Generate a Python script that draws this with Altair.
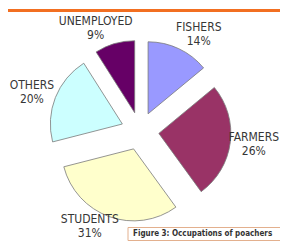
import altair as alt
import pandas as pd

# ---- data ----
categories = ["FISHERS", "FARMERS", "STUDENTS", "OTHERS", "UNEMPLOYED"]
shares = [14, 26, 31, 20, 9]
colors = ["#9999ff", "#993366", "#ffffcc", "#ccffff", "#660066"]
caption = ["Figure 3: Occupations of poachers"]

# ---- layout (chart must fit 288x249 window minus 8px page margins) ----
W, H = 272, 233
CX, CY = 132, 123      # pie centre
R = 72                 # pie radius
EXPLODE = 19           # explode distance of every slice
LRX, LRY = 98, 107     # label anchor radii
LGAP = 17              # horizontal push of labels away from the pie
HALF_CHAR = 3.6        # half width of one capital at 12px
BLOCK_H = 27           # full height of a two-line label
LINE_H = 14
FONT = "DejaVu Sans Condensed, DejaVu Sans, sans-serif"

df = pd.DataFrame({"cat": categories, "share": shares, "order": list(range(len(categories)))})

base = (
    alt.Chart(df)
    .transform_window(cum="sum(share)", sort=[alt.SortField("order")], frame=[None, 0])
    .transform_joinaggregate(total="sum(share)")
    .transform_calculate(
        a0="2*PI*(datum.cum - datum.share)/datum.total",
        a1="2*PI*datum.cum/datum.total",
    )
    .transform_calculate(mid="(datum.a0 + datum.a1)/2")
)

arcs = (
    base.transform_calculate(
        px=f"{CX} + {EXPLODE}*sin(datum.mid)",
        py=f"{CY} - {EXPLODE}*cos(datum.mid)",
    )
    .mark_arc(radius=R, stroke="#7a7a7a", strokeWidth=0.8)
    .encode(
        x=alt.X("px:Q", scale=None, axis=None),
        y=alt.Y("py:Q", scale=None, axis=None),
        theta=alt.Theta("a0:Q", scale=None, stack=False),
        theta2="a1:Q",
        color=alt.Color("cat:N", scale=alt.Scale(domain=categories, range=colors), legend=None),
    )
)

labels = (
    base.transform_calculate(
        hw=f"length(datum.cat)*{HALF_CHAR}",
        lx0=f"{CX} + {LRX}*sin(datum.mid) + (sin(datum.mid) >= 0 ? 1 : -1)*{LGAP}",
        ly0=f"{CY} - {LRY}*cos(datum.mid) - 12",
        txt="datum.cat + '\\n' + datum.share + '%'",
    )
    .transform_calculate(
        lx=f"clamp(datum.lx0, datum.hw + 2, {W} - datum.hw - 1)",
        ly=f"min(datum.ly0, {H} - {BLOCK_H})",
    )
    .mark_text(font=FONT, fontSize=12, color="#363636", lineBreak="\n", lineHeight=LINE_H,
               align="center", baseline="top")
    .encode(
        x=alt.X("lx:Q", scale=None, axis=None),
        y=alt.Y("ly:Q", scale=None, axis=None),
        text="txt:N",
    )
)

cap_df = pd.DataFrame({"t": caption})
cap_box = alt.Chart(cap_df).mark_rect(fill="white", stroke="#e3b08e", strokeWidth=1).encode(
    x=alt.value(120), x2=alt.value(290), y=alt.value(219.5), y2=alt.value(232.5)
)
cap_text = alt.Chart(cap_df).mark_text(
    font=FONT, fontSize=8, fontWeight="bold", color="#333333", align="left", baseline="middle"
).encode(x=alt.value(125), y=alt.value(226.3), text="t:N")

top_rule = alt.Chart(cap_df).mark_rule(color="#f26f21", strokeWidth=3).encode(
    x=alt.value(0), x2=alt.value(W), y=alt.value(2.5)
)

chart = (
    alt.layer(top_rule, arcs, labels, cap_box, cap_text)
    .properties(width=W, height=H, autosize="none", padding=0, background="white")
    .configure_view(stroke=None)
)

chart.save("out.html", embed_options={"renderer": "svg", "actions": False})
